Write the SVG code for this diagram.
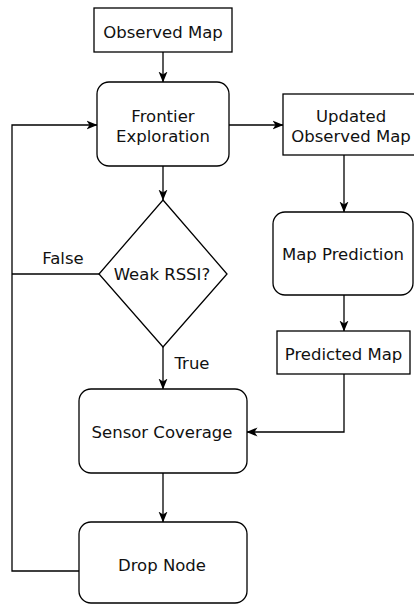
<svg xmlns="http://www.w3.org/2000/svg" width="414" height="604" viewBox="0 0 414 604">
  <defs>
    <marker id="arrow" viewBox="0 0 11 10" refX="10.5" refY="5" markerWidth="11" markerHeight="10" markerUnits="userSpaceOnUse" orient="auto">
      <path d="M0,0.5 L11,5 L0,9.5 L3,5 Z" fill="#000"/>
    </marker>
  </defs>
  <style>
    .box { fill: #fff; stroke: #000; stroke-width: 1.3; }
    .lbl { font-family: "DejaVu Sans", Verdana, sans-serif; font-size: 16.5px; fill: #111; text-anchor: middle; }
    .edge { fill: none; stroke: #000; stroke-width: 1.3; }
    .arr { marker-end: url(#arrow); }
  </style>
  <rect width="414" height="604" fill="#fff"/>

  <g id="connectors">
    <path class="edge arr" d="M163,52 V82"/>
    <path class="edge arr" d="M163,166 V200"/>
    <path class="edge arr" d="M229,125 H283"/>
    <path class="edge arr" d="M344,155 V212"/>
    <path class="edge arr" d="M344,295 V331"/>
    <path class="edge arr" d="M344,374 V432 H247"/>
    <path class="edge arr" d="M163,347 V389"/>
    <path class="edge arr" d="M163,473 V522"/>
    <path class="edge" d="M99,274 H12"/>
    <path class="edge arr" d="M79,571 H12 V125 H97"/>
    <text class="lbl" x="63" y="264">False</text>
    <text class="lbl" x="192" y="369">True</text>
  </g>

  <g id="observed-map">
    <rect class="box" x="94" y="8" width="138" height="44"/>
    <text class="lbl" x="163" y="38">Observed Map</text>
  </g>

  <g id="frontier-exploration">
    <rect class="box" x="97" y="82" width="132" height="84" rx="12"/>
    <text class="lbl" x="163" y="122">Frontier</text>
    <text class="lbl" x="163" y="142">Exploration</text>
  </g>

  <g id="updated-observed-map">
    <rect class="box" x="283" y="94" width="136" height="61"/>
    <text class="lbl" x="351" y="122">Updated</text>
    <text class="lbl" x="351" y="142">Observed Map</text>
  </g>

  <g id="weak-rssi">
    <path class="box" d="M163,200 L227,274 L163,347 L99,274 Z"/>
    <text class="lbl" x="162" y="280">Weak RSSI?</text>
  </g>

  <g id="map-prediction">
    <rect class="box" x="273" y="212" width="140" height="83" rx="12"/>
    <text class="lbl" x="343" y="260">Map Prediction</text>
  </g>

  <g id="predicted-map">
    <rect class="box" x="277" y="331" width="133" height="43"/>
    <text class="lbl" x="343.5" y="360">Predicted Map</text>
  </g>

  <g id="sensor-coverage">
    <rect class="box" x="79" y="389" width="168" height="84" rx="12"/>
    <text class="lbl" x="162" y="438">Sensor Coverage</text>
  </g>

  <g id="drop-node">
    <rect class="box" x="79" y="522" width="168" height="81" rx="12"/>
    <text class="lbl" x="162" y="571">Drop Node</text>
  </g>
</svg>
